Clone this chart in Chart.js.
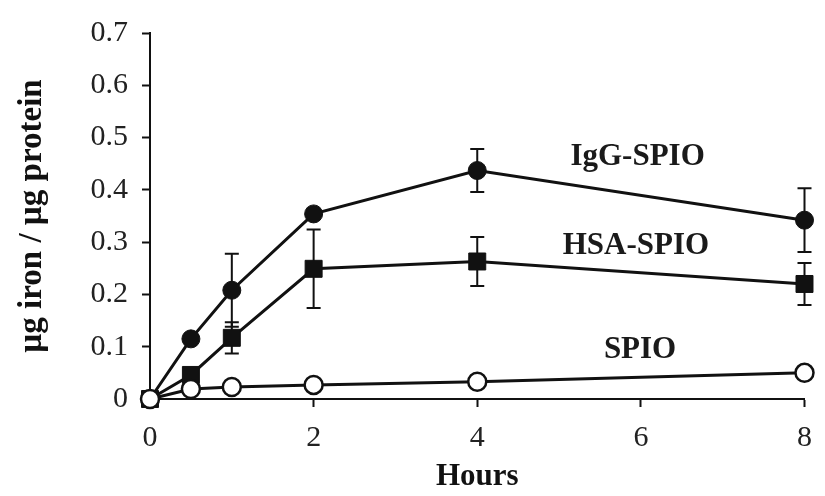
<!DOCTYPE html>
<html>
<head>
<meta charset="utf-8">
<script src="https://cdn.jsdelivr.net/npm/chart.js@4"></script>
<style>
  html, body { margin: 0; padding: 0; background: #fff; }
  #wrap { width: 825px; height: 496px; }
</style>
</head>
<body>
<div id="wrap"><canvas id="grafiek" width="825" height="496"></canvas></div>
<script>
// tijdpunten (uren)
const uren = [0, 0.5, 1, 2, 4, 8];

// gemeten waarden
const igg = [0, 0.115, 0.208, 0.354, 0.437, 0.342];
const hsa = [0, 0.046, 0.117, 0.249, 0.263, 0.220];
const spio = [0, 0.019, 0.023, 0.027, 0.033, 0.050];

// foutbalken (+/-)
const iggFout = [0, 0, 0.07, 0, 0.041, 0.061];
const hsaFout = [0, 0, 0.03, 0.075, 0.047, 0.04];
const spioFout = [0, 0, 0, 0, 0, 0];

const labelTeksten = ['IgG-SPIO', 'HSA-SPIO', 'SPIO'];
const labelX = [5.96, 5.94, 5.99];
const labelY = [0.463, 0.293, 0.094];

const yTicks = [0, 0.1, 0.2, 0.3, 0.4, 0.5, 0.6, 0.7];
const xTicks = [0, 2, 4, 6, 8];

const punten = (ys) => uren.map((x, i) => ({ x: x, y: ys[i] }));

const serif = '"Liberation Serif", "Times New Roman", serif';

// foutbalken tekenen achter de lijnen
const foutbalken = {
  id: 'foutbalken',
  beforeDatasetsDraw(chart) {
    const ctx = chart.ctx;
    const xs = chart.scales.x, ys = chart.scales.y;
    ctx.save();
    ctx.strokeStyle = '#111';
    ctx.lineWidth = 2;
    chart.data.datasets.forEach(ds => {
      ds.fout.forEach((f, i) => {
        if (!f) return;
        const px = xs.getPixelForValue(uren[i]);
        const top = ys.getPixelForValue(ds.data[i].y + f);
        const bot = ys.getPixelForValue(ds.data[i].y - f);
        ctx.beginPath();
        ctx.moveTo(px, top); ctx.lineTo(px, bot);
        ctx.moveTo(px - 7, top); ctx.lineTo(px + 7, top);
        ctx.moveTo(px - 7, bot); ctx.lineTo(px + 7, bot);
        ctx.stroke();
      });
    });
    ctx.restore();
  }
};

const labels = {
  id: 'labels',
  afterDatasetsDraw(chart) {
    const ctx = chart.ctx;
    const xs = chart.scales.x, ys = chart.scales.y;
    ctx.save();
    ctx.fillStyle = '#1a1a1a';
    ctx.font = 'bold 31px ' + serif;
    ctx.textAlign = 'center';
    ctx.textBaseline = 'middle';
    labelTeksten.forEach((t, i) => {
      ctx.fillText(t, xs.getPixelForValue(labelX[i]), ys.getPixelForValue(labelY[i]));
    });
    ctx.restore();
  }
};

const ctx = document.getElementById('grafiek').getContext('2d');

new Chart(ctx, {
  type: 'line',
  data: {
    datasets: [
      {
        label: 'SPIO', data: punten(spio), fout: spioFout, order: 0,
        borderColor: '#111', borderWidth: 3, pointStyle: 'circle', pointRadius: 9,
        pointBackgroundColor: '#fff', pointBorderColor: '#111', pointBorderWidth: 2.5, clip: false
      },
      {
        label: 'HSA-SPIO', data: punten(hsa), fout: hsaFout, order: 1,
        borderColor: '#111', borderWidth: 3, pointStyle: 'rect', pointRadius: 12,
        pointBackgroundColor: '#111', pointBorderColor: '#111', pointBorderWidth: 1, clip: false
      },
      {
        label: 'IgG-SPIO', data: punten(igg), fout: iggFout, order: 2,
        borderColor: '#111', borderWidth: 3, pointStyle: 'circle', pointRadius: 9,
        pointBackgroundColor: '#111', pointBorderColor: '#111', pointBorderWidth: 1, clip: false
      }
    ]
  },
  options: {
    responsive: false,
    animation: false,
    layout: { padding: { top: 33, right: 11, bottom: 0, left: 0 } },
    plugins: { legend: { display: false }, tooltip: { enabled: false } },
    scales: {
      x: {
        type: 'linear', min: 0, max: 8,
        afterBuildTicks: s => { s.ticks = xTicks.map(v => ({ value: v })); },
        afterFit: s => { s.height = 97; },
        border: { display: true, color: '#111', width: 2 },
        grid: { drawOnChartArea: false, drawTicks: true, tickLength: 8, tickColor: '#111', tickWidth: 2 },
        ticks: { color: '#222', padding: 13, font: { family: serif, size: 30 } },
        title: { display: true, text: 'Hours', color: '#111', padding: { top: 0, bottom: 0 },
          font: { family: serif, size: 31, weight: 'bold' } }
      },
      y: {
        type: 'linear', min: 0, max: 0.7,
        afterBuildTicks: s => { s.ticks = yTicks.map(v => ({ value: v })); },
        afterFit: s => { s.width = 150; },
        border: { display: true, color: '#111', width: 2 },
        grid: { drawOnChartArea: false, drawTicks: true, tickLength: 8, tickColor: '#111', tickWidth: 2 },
        ticks: { color: '#222', padding: 14, font: { family: serif, size: 30 },
          callback: v => v === 0 ? '0' : v.toFixed(1) },
        title: { display: true, text: 'µg iron / µg protein', color: '#111', padding: { top: 13, bottom: 0 },
          font: { family: serif, size: 33, weight: 'bold' } }
      }
    }
  },
  plugins: [foutbalken, labels]
});
</script>
</body>
</html>
